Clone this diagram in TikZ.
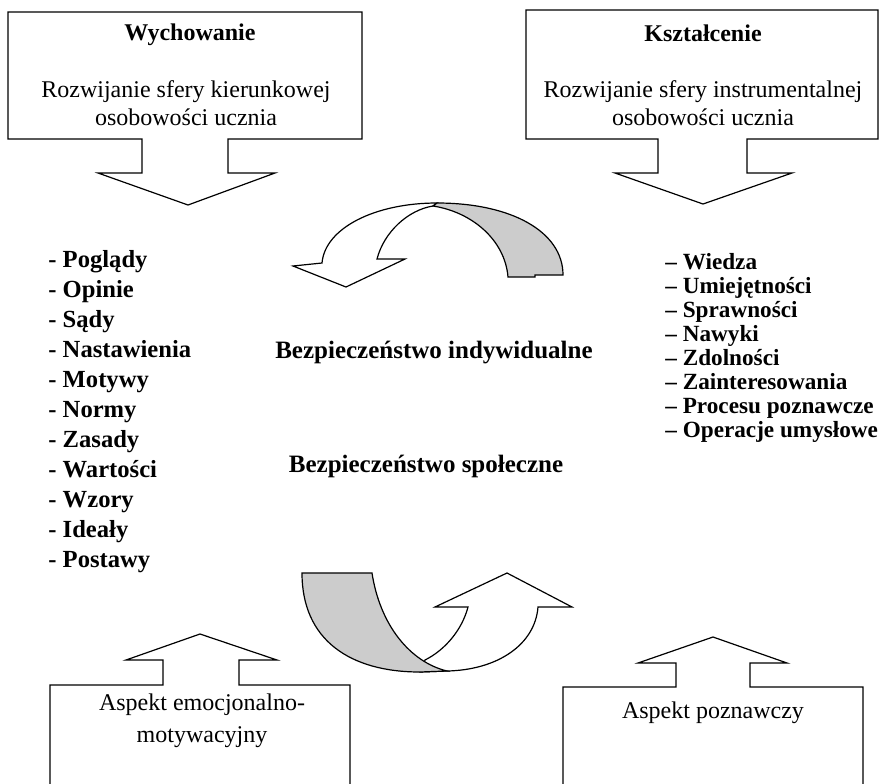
\documentclass[tikz,border=0pt]{standalone}
\usepackage{fontspec}
\setmainfont{Liberation Serif}
\definecolor{bandgray}{RGB}{204,204,204}
\tikzset{
  shapeline/.style={draw=black, line width=0.6pt, line join=miter, fill=white},
  bandline/.style={draw=black, line width=0.6pt, fill=bandgray},
  boxtitle/.style={font=\fontsize{12}{14}\selectfont\bfseries, inner sep=0pt, anchor=base},
  boxtext/.style={font=\fontsize{12}{14}\selectfont, align=center, inner sep=0pt},
  listtext/.style={font=\fontsize{12.3}{15}\selectfont\bfseries, align=left, inner sep=0pt, anchor=west},
  centertext/.style={font=\fontsize{12.5}{15}\selectfont\bfseries, inner sep=0pt}
}
\begin{document}
\begin{tikzpicture}[x=0.5pt, y=-0.5pt]
\useasboundingbox (0,0) rectangle (890,783);
\begin{scope}
\clip (0,0) rectangle (890,783);
% top-left callout
\draw[shapeline] (8,12) -- (362,12) -- (362,139) -- (228,139) -- (228,173) -- (275,173) -- (188,205) -- (98,173) -- (142,173) -- (142,139) -- (8,139) -- cycle;
% top-right callout
\draw[shapeline] (526,10) -- (878,10) -- (878,139) -- (747,139) -- (747,173) -- (792,173) -- (703,204) -- (615,173) -- (658,173) -- (658,139) -- (526,139) -- cycle;
% bottom-left callout
\draw[shapeline] (50,800) -- (50,685) -- (163,685) -- (163,660) -- (126,660) -- (200,634) -- (277,660) -- (239,660) -- (239,685) -- (350,685) -- (350,800);
% bottom-right callout
\draw[shapeline] (563,800) -- (563,687) -- (676,687) -- (676,663) -- (638,663) -- (713,637) -- (787,663) -- (750,663) -- (750,687) -- (863,687) -- (863,800);

% top curved arrow: white front part
\draw[shapeline] (437,203) .. controls (375,203) and (325,228) .. (322,263) -- (293,266) -- (346,287) -- (405,259) -- (377,259) .. controls (384,232) and (408,210) .. (433,206) -- cycle;
% top curved arrow: gray back part
\draw[bandline] (563,275) .. controls (563,232) and (512,203) .. (437,203) -- (433,206) .. controls (472,212) and (505,240) .. (508,277) -- (535,277) -- (535,275) -- cycle;

% bottom curved arrow: white front part
\draw[shapeline] (420,672) -- (447,671) .. controls (497,670) and (535,645) .. (538,607) -- (572,607) -- (507,573) -- (435,607) -- (468,607) .. controls (462,630) and (445,650) .. (425,660) -- cycle;
% bottom curved arrow: gray back part
\draw[bandline] (302,573) -- (372,573) .. controls (380,625) and (410,662) .. (447,671) -- (420,672) .. controls (350,672) and (302,640) .. cycle;
\end{scope}

% texts
\node[boxtitle] (wychT) at (190,40) {Wychowanie};
\node[boxtext] (wychD) at (186,103) {Rozwijanie sfery kierunkowej\\osobowości ucznia};
\node[boxtitle] (kszT) at (703,41) {Kształcenie};
\node[boxtext] (kszD) at (703,103) {Rozwijanie sfery instrumentalnej\\osobowości ucznia};

\node[listtext] (leftlist) at (48,412) {- Poglądy\\- Opinie\\- Sądy\\- Nastawienia\\- Motywy\\- Normy\\- Zasady\\- Wartości\\- Wzory\\- Ideały\\- Postawy};
\node[listtext, font=\fontsize{11.6}{11.95}\selectfont\bfseries] (rightlist) at (665,348) {– Wiedza\\– Umiejętności\\– Sprawności\\– Nawyki\\– Zdolności\\– Zainteresowania\\– Procesu poznawcze\\– Operacje umysłowe};

\node[centertext] (bind) at (434,353) {Bezpieczeństwo indywidualne};
\node[centertext] (bspo) at (426,466) {Bezpieczeństwo społeczne};

\node[boxtext, font=\fontsize{12}{16}\selectfont] (aemo) at (202,721) {Aspekt emocjonalno-\\motywacyjny};
\node[boxtext] (apoz) at (713,713) {Aspekt poznawczy};
\end{tikzpicture}
\end{document}
